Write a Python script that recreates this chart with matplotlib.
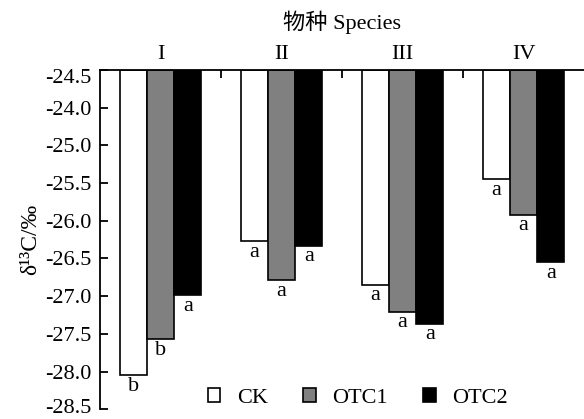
import matplotlib
matplotlib.use("Agg")
import matplotlib.pyplot as plt
import numpy as np
from matplotlib.patches import Patch
from matplotlib.transforms import ScaledTranslation

species = ["I", "II", "III", "IV"]
series = ["CK", "OTC1", "OTC2"]
ck = [-28.05, -26.27, -26.85, -25.45]
otc1 = [-27.57, -26.79, -27.21, -25.92]
otc2 = [-26.99, -26.33, -27.37, -26.55]
letters_ck = ["b", "a", "a", "a"]
letters_otc1 = ["b", "a", "a", "a"]
letters_otc2 = ["a", "a", "a", "a"]
ytick_values = [-24.0, -24.5, -25.0, -25.5, -26.0, -26.5, -27.0, -27.5, -28.0, -28.5]
ytick_labels = ["-24.5", "-24.0", "-25.0", "-25.5", "-26.0", "-26.5", "-27.0", "-27.5", "-28.0", "-28.5"]

serif = ["Liberation Serif", "Noto Sans CJK SC", "DejaVu Sans"]
plt.rcParams["font.family"] = serif
FS = 16

fig = plt.figure(figsize=(5.84, 4.19), dpi=100)
ax = fig.add_axes([0.1712, 0.0232, 0.8288, 0.8098])

top = -24.0
ax.set_ylim(-28.5, top)
ax.set_xlim(0, 4)
w = 0.225
x = np.arange(len(species)) + 0.5
colors = ["white", "#808080", "black"]
vals = [ck, otc1, otc2]
lets = [letters_ck, letters_otc1, letters_otc2]
for i, (v, c, L) in enumerate(zip(vals, colors, lets)):
    xi = x + (i - 1) * w
    v = np.array(v)
    ax.bar(xi, v - top, bottom=top, width=w, color=c, edgecolor="black", linewidth=1.2, zorder=2)
    for xx, vv, ll in zip(xi, v, L):
        ax.annotate(ll, (xx, vv), xytext=(0, -1), textcoords="offset points",
                    ha="center", va="top", fontsize=FS)

for s in ["right", "bottom"]:
    ax.spines[s].set_visible(False)
for s in ["left", "top"]:
    ax.spines[s].set_linewidth(1.3)

ax.set_yticks(ytick_values)
ax.set_yticklabels(ytick_labels, fontsize=FS)
ax.tick_params(axis="y", direction="in", length=6, width=1.3, pad=6)
ylabs = ax.get_yticklabels()
ylabs[0].set_transform(ylabs[0].get_transform() + ScaledTranslation(0, -0.06, fig.dpi_scale_trans))
ylabs[-1].set_transform(ylabs[-1].get_transform() + ScaledTranslation(0, 0.03, fig.dpi_scale_trans))

ax.xaxis.tick_top()
ax.set_xticks(x)
ax.set_xticklabels(species, fontsize=FS)
ax.set_xticks([1, 2, 3], minor=True)
ax.tick_params(axis="x", which="major", length=0, pad=4)
ax.tick_params(axis="x", which="minor", direction="in", length=6, width=1.3)
ax.xaxis.set_label_position("top")
ax.set_xlabel("物种 Species", fontsize=FS, labelpad=12)

ax.set_ylabel("δ¹³C/‰", fontsize=17, labelpad=3)

handles = [Patch(facecolor=c, edgecolor="black", linewidth=1.2) for c in colors]
fig.legend(handles, series, loc="center", bbox_to_anchor=(0.613, 0.05), ncol=3,
           frameon=False, fontsize=FS, handlelength=0.55, handleheight=0.55,
           handletextpad=0.75, columnspacing=1.6)

fig.savefig("out.png", dpi=100)
